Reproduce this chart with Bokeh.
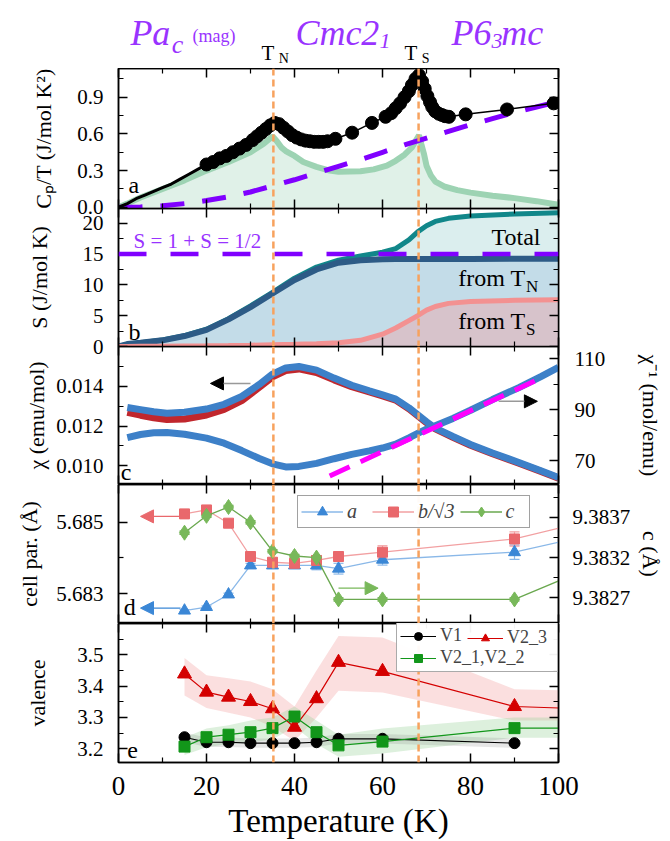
import numpy as np
from bokeh.plotting import figure
from bokeh.models import (Range1d, LinearAxis, FixedTicker, PrintfTickFormatter, Span, Legend,
                          LegendItem, Arrow, NormalHead, Whisker, TeeHead, ColumnDataSource)
from bokeh.layouts import column
from bokeh.core.properties import value
from bokeh.embed import file_html
from bokeh.resources import INLINE

FONT = "Liberation Serif"
PURPLE_TXT = "#9933ff"
PURPLE = "#8000ff"
ORANGE = "#f7a25e"
T_N, T_S = 35.2, 68.2

# ---------------- data ----------------
# (a) Cp/T
cp_T = [0, 2, 4, 6, 8, 10, 12, 14, 16, 18, 20, 21.5, 23, 24.5, 26, 27.5, 29, 30.5, 31.5, 32.5,
        33.5, 34.5, 35.5, 36.5, 37.5, 38.5, 39.5, 40.5, 41.5, 42.5, 43.5, 44.5, 45.5, 46.5, 47.5,
        49.3, 53.1, 57.6, 60.7, 62, 63, 64, 65, 66, 66.7, 67.5, 68.3, 69, 69.6, 70.2, 70.8, 71.3,
        72, 72.8, 73.5, 74.2, 75.1, 78.9, 88.3, 98.9]
cp_v = [0.0, 0.03, 0.07, 0.10, 0.13, 0.16, 0.19, 0.23, 0.27, 0.31, 0.35, 0.37, 0.40, 0.42, 0.45,
        0.48, 0.51, 0.55, 0.58, 0.61, 0.64, 0.67, 0.69, 0.68, 0.65, 0.62, 0.59, 0.57, 0.555, 0.545,
        0.54, 0.535, 0.535, 0.535, 0.54, 0.56, 0.61, 0.69, 0.74, 0.77, 0.81, 0.85, 0.90, 0.95, 1.00,
        1.05, 1.08, 1.03, 0.97, 0.91, 0.86, 0.82, 0.785, 0.765, 0.755, 0.745, 0.74, 0.76, 0.80, 0.85]
mag_T = [0, 2, 5, 10, 15, 20, 25, 30, 33, 35, 36, 37, 38, 40, 42, 45, 48, 50, 55, 58, 61, 63, 65,
         66.7, 67.5, 68.3, 68.8, 69.4, 70, 71, 72, 74, 77, 80, 85, 90, 95, 100]
mag_v = [0, 0.03, 0.08, 0.15, 0.22, 0.30, 0.37, 0.45, 0.52, 0.58, 0.54, 0.49, 0.46, 0.42, 0.37,
         0.33, 0.30, 0.29, 0.295, 0.31, 0.34, 0.38, 0.43, 0.49, 0.54, 0.59, 0.52, 0.44, 0.34, 0.26,
         0.21, 0.17, 0.14, 0.12, 0.095, 0.075, 0.05, 0.02]
lat_T = [0, 5, 10, 15, 20, 25, 30, 35, 40, 45, 50, 55, 60, 65, 70, 75, 80, 85, 90, 95, 100]
lat_v = [0, 0.003, 0.012, 0.03, 0.055, 0.085, 0.125, 0.175, 0.225, 0.28, 0.335, 0.39, 0.45, 0.51,
         0.565, 0.62, 0.675, 0.725, 0.775, 0.82, 0.865]
a_ticks = [0.0, 0.3, 0.6, 0.9]

# (b) entropy
S_T = [0, 2, 5, 10, 15, 20, 25, 30, 35, 40, 45, 50, 55, 60, 63, 66, 68, 70, 72, 75, 80, 90, 100]
S_TN = [0, 0.4, 0.6, 1.0, 1.7, 2.7, 4.4, 6.4, 8.6, 10.8, 12.5, 13.6, 14.0, 14.15, 14.2, 14.2,
        14.2, 14.2, 14.2, 14.2, 14.2, 14.25, 14.25]
S_TS = [0, 0.02, 0.04, 0.06, 0.1, 0.12, 0.15, 0.2, 0.3, 0.35, 0.45, 0.6, 1.0, 2.0, 3.0, 4.2, 5.0,
        5.9, 6.5, 7.0, 7.3, 7.5, 7.6]
S_tot = [0, 0.4, 0.6, 1.05, 1.75, 2.8, 4.5, 6.6, 8.8, 11.1, 12.9, 14.0, 14.7, 15.3, 15.9, 17.3,
         18.6, 19.6, 20.3, 20.8, 21.2, 21.5, 21.7]
S_limit = 15.0
b_ticks = [0, 5, 10, 15, 20]

# (c) susceptibility
chi_T = [2, 5, 8, 11, 15, 20, 24, 28, 32, 35, 38, 41, 45, 49, 53, 57, 60, 63, 66, 68, 70, 72, 76,
         80, 85, 91, 96, 100]
chi_fc = [0.01294, 0.01283, 0.01272, 0.01265, 0.01270, 0.01286, 0.01310, 0.01350, 0.01410,
          0.01462, 0.01493, 0.01500, 0.01482, 0.01442, 0.01406, 0.01378, 0.01358, 0.01336,
          0.01292, 0.01257, 0.01222, 0.01190, 0.01148, 0.01108, 0.01065, 0.01017, 0.00975, 0.00941]
chi_zfc = [0.01270, 0.01255, 0.01242, 0.01233, 0.01236, 0.01256, 0.01284, 0.01328, 0.01396,
           0.01448, 0.01480, 0.01488, 0.01470, 0.01433, 0.01399, 0.01372, 0.01352, 0.01331,
           0.01287, 0.01252, 0.01217, 0.01186, 0.01144, 0.01104, 0.01061, 0.01013, 0.00972, 0.00938]
inv_chi = [79.1, 80.3, 81.0, 81.1, 80.4, 78.9, 76.9, 74.0, 70.9, 68.8, 67.6, 67.8, 69.0, 70.8,
           72.5, 73.9, 75.0, 76.5, 79.0, 80.7, 82.4, 83.7, 86.6, 89.8, 94.0, 98.7, 103.0, 106.6]
cw_T = [48, 97]
cw_v = [64.0, 103.2]
c_ticks_l = [0.010, 0.012, 0.014]
c_ticks_r = [70, 90, 110]

# (d) cell parameters (last point lies beyond 100 K)
d_T = [15, 20, 25, 30, 35, 40, 45, 50, 60, 90, 110]
d_a = [5.68253, 5.68263, 5.68298, 5.68379, 5.68379, 5.68379, 5.68379, 5.68370, 5.68395, 5.68416, 5.68472]
d_a_err = [0.00003, 0.00003, 0.00004, 0.00006, 0.00008, 0.00008, 0.00012, 0.00015, 0.00015, 0.0002, 0.0002]
d_b = [5.68523, 5.68534, 5.68497, 5.68404, 5.68388, 5.68385, 5.68393, 5.68404, 5.68416, 5.68453, 5.68513]
d_b_err = [0.00003, 0.00003, 0.00004, 0.00008, 0.00012, 0.00012, 0.00012, 0.00012, 0.00018, 0.0002, 0.0002]
d_c = [9.38351, 9.38372, 9.38383, 9.38364, 9.38328, 9.38322, 9.38320, 9.38268, 9.38268, 9.38268, 9.38314]
d_c_err = [0.00002] * 11
d_ticks_l = [5.683, 5.685]
d_ticks_r = [9.3827, 9.3832, 9.3837]

# (e) valence (last point of V2 lines lies beyond 100 K)
e_T = [15, 20, 25, 30, 35, 40, 45, 50, 60, 90]
V1 = [3.237, 3.221, 3.221, 3.218, 3.218, 3.218, 3.221, 3.232, 3.232, 3.218]
V1_lo = [3.222, 3.206, 3.206, 3.203, 3.203, 3.203, 3.206, 3.217, 3.217, 3.203]
V1_hi = [3.252, 3.236, 3.236, 3.233, 3.233, 3.233, 3.236, 3.247, 3.247, 3.233]
e_T2 = [15, 20, 25, 30, 35, 40, 45, 50, 60, 90, 105]
V2_12 = [3.207, 3.237, 3.245, 3.253, 3.266, 3.303, 3.253, 3.211, 3.223, 3.266, 3.266]
V2_12_lo = [3.180, 3.205, 3.215, 3.220, 3.230, 3.270, 3.215, 3.175, 3.185, 3.235, 3.235]
V2_12_hi = [3.235, 3.265, 3.275, 3.290, 3.300, 3.335, 3.290, 3.245, 3.265, 3.300, 3.300]
V2_3 = [3.439, 3.381, 3.365, 3.351, 3.328, 3.269, 3.360, 3.476, 3.447, 3.335, 3.328]
V2_3_lo = [3.370, 3.330, 3.315, 3.300, 3.270, 3.225, 3.300, 3.385, 3.380, 3.290, 3.290]
V2_3_hi = [3.490, 3.435, 3.425, 3.415, 3.390, 3.335, 3.450, 3.560, 3.555, 3.390, 3.385]
e_ticks = [3.2, 3.3, 3.4, 3.5]

x_ticks = [0, 20, 40, 60, 80, 100]
x_minor = [10, 30, 50, 70, 90]

# ---------------- helpers ----------------
xr = Range1d(0, 100)
OVER = 10  # extra canvas below a panel so that its lowest tick label is not cut


def make_fig(fh, y0, y1, top=0, bottom=0, outline=True):
    p = figure(frame_width=440, frame_height=fh, x_range=xr, y_range=Range1d(y0, y1),
               min_border_left=118, min_border_right=112, min_border_top=top,
               min_border_bottom=bottom, x_axis_location=None, y_axis_location=None,
               toolbar_location=None, title=None, output_backend="svg",
               outline_line_color="black" if outline else None, outline_line_width=1.5,
               background_fill_color="white", border_fill_alpha=0)
    p.xgrid.visible = False
    p.ygrid.visible = False
    return p


def add_axis(p, side, ticks, minor, fmt=None, label=None, size="21px", standoff=15,
             label_standoff=10, range_name=None, label_size="22px"):
    ax = LinearAxis(ticker=FixedTicker(ticks=ticks, minor_ticks=minor))
    if range_name:
        ax.y_range_name = range_name
    ax.axis_line_color = "black"
    ax.axis_line_width = 1.5
    ax.major_tick_in = 9
    ax.major_tick_out = 0
    ax.minor_tick_in = 5
    ax.minor_tick_out = 0
    ax.major_tick_line_width = 1.5
    ax.minor_tick_line_width = 1.2
    if fmt:
        ax.formatter = PrintfTickFormatter(format=fmt)
        ax.major_label_text_font = FONT
        ax.major_label_text_font_size = size
        ax.major_label_text_color = "black"
        ax.major_label_standoff = standoff
    else:
        ax.major_label_text_font_size = "0px"
        ax.major_label_text_color = None
        ax.major_label_standoff = 0
    if label:
        ax.axis_label = label
        ax.axis_label_text_font = FONT
        ax.axis_label_text_font_size = label_size
        ax.axis_label_text_font_style = "normal"
        ax.axis_label_text_color = "black"
        ax.axis_label_standoff = label_standoff
    p.add_layout(ax, side)
    return ax


def txt(p, x, y, s, size, color="black", style="normal", align="left", rn="default"):
    p.text(x=[x], y=[y], text=[s], text_font=value(FONT), text_font_size=value(size),
           text_color=color, text_font_style=style, text_align=align,
           text_baseline="alphabetic", y_range_name=rn)


def vlines(p):
    for t in (T_N, T_S):
        p.add_layout(Span(location=t, dimension="height", line_color=ORANGE,
                          line_dash="7 4", line_width=2.5))


def x_axes(p, bottom_labels=False):
    add_axis(p, "above", x_ticks, x_minor)
    if bottom_labels:
        add_axis(p, "below", x_ticks, x_minor, fmt="%d", size="27px", standoff=14,
                 label="Temperature (K)", label_size="33px", label_standoff=5)
    else:
        add_axis(p, "below", x_ticks, x_minor)


# ---------------- header ----------------
ph = make_fig(68, 0, 68, outline=False)
txt(ph, 2.7, 36, "Pa", "36px", PURPLE_TXT, "italic")
txt(ph, 12.1, 24, "c", "26px", PURPLE_TXT, "italic")
txt(ph, 16.8, 33, "(mag)", "18px", PURPLE_TXT)
txt(ph, 40.2, 36, "Cmc2", "36px", PURPLE_TXT, "italic")
txt(ph, 59.3, 28, "1", "22px", PURPLE_TXT, "italic")
txt(ph, 75.7, 36, "P6", "36px", PURPLE_TXT, "italic")
txt(ph, 84.8, 28, "3", "22px", PURPLE_TXT, "italic")
txt(ph, 87.0, 36, "mc", "36px", PURPLE_TXT, "italic")
txt(ph, 32.5, 16, "T", "21px")
txt(ph, 36.4, 10, "N", "14px")
txt(ph, 65.0, 16, "T", "21px")
txt(ph, 68.9, 10, "S", "14px")

# ---------------- (a) ----------------
pa = make_fig(140, -0.01, 1.135, bottom=OVER)
pa.varea(x=mag_T, y1=0, y2=mag_v, fill_color="#e0f1e8")
pa.line(mag_T, mag_v, line_color="#9dd3b3", line_width=6)
pa.line(lat_T, lat_v, line_color=PURPLE, line_width=5, line_dash="24 18")
cpT = np.array(cp_T)
cpv = np.array(cp_v)
low = cpT <= 20
pa.line(cpT[low], cpv[low], line_color="black", line_width=3)
pa.line(cp_T, cp_v, line_color="black", line_width=1.5)
sel = cpT >= 20
pa.scatter(cpT[sel], cpv[sel], size=13, fill_color="black", line_color="black")
add_axis(pa, "left", a_ticks, [0.15, 0.45, 0.75, 1.05], fmt="%.1f",
         label="Cₚ/T (J/mol K²)", label_standoff=18)
add_axis(pa, "right", a_ticks, [0.15, 0.45, 0.75, 1.05])
x_axes(pa)
vlines(pa)
txt(pa, 2.3, 0.18, "a", "24px")

# ---------------- (b) ----------------
pb = make_fig(138, 0, 22.4, bottom=OVER)
pb.margin = (-OVER, 0, 0, 0)
pb.varea(x=S_T, y1=0, y2=S_tot, fill_color="#dbeeee")
pb.varea(x=S_T, y1=0, y2=S_TN, fill_color="#c3dce8")
pb.varea(x=S_T, y1=0, y2=S_TS, fill_color="#d7c3cb")
pb.line(S_T, S_tot, line_color="#11878a", line_width=5)
pb.line(S_T, S_TN, line_color="#2d5b86", line_width=6)
pb.line(S_T, S_TS, line_color="#f39191", line_width=5)
pb.add_layout(Span(location=S_limit, dimension="width", line_color=PURPLE, line_width=4.5,
                   line_dash="28 24"))
add_axis(pb, "left", b_ticks, [2.5, 7.5, 12.5, 17.5], fmt="%d", label="S (J/mol K)",
         label_standoff=28)
add_axis(pb, "right", b_ticks, [2.5, 7.5, 12.5, 17.5])
x_axes(pb)
vlines(pb)
txt(pb, 3.4, 17.1, "S = 1 + S = 1/2", "21px", PURPLE_TXT)
txt(pb, 95.9, 17.7, "Total", "24px", align="right")
txt(pb, 92.5, 11.1, "from T", "24px", align="right")
txt(pb, 92.6, 9.8, "N", "17px")
txt(pb, 92.5, 4.1, "from T", "24px", align="right")
txt(pb, 92.6, 2.8, "S", "17px")
txt(pb, 2.3, 2.3, "b", "24px")

# ---------------- (c) ----------------
pc = make_fig(138, 0.00906, 0.01601)
pc.margin = (-OVER, 0, 0, 0)
pc.extra_y_ranges = {"r": Range1d(60.7, 114.8)}
pc.line(chi_T, chi_zfc, line_color="#c1272d", line_width=7)
pc.line(chi_T, chi_fc, line_color="#3d80c8", line_width=7)
pc.line(chi_T, inv_chi, line_color="#3d80c8", line_width=7, y_range_name="r")
pc.line(cw_T, cw_v, line_color="#ff00ff", line_width=5, line_dash="22 12", y_range_name="r")
add_axis(pc, "left", c_ticks_l, [0.011, 0.013, 0.015], fmt="%.3f", label="χ (emu/mol)",
         label_standoff=4)
add_axis(pc, "right", c_ticks_r, [80, 100], fmt="%d", label="χ⁻¹ (mol/emu)", standoff=16,
         label_standoff=30, range_name="r")
x_axes(pc)
vlines(pc)
pc.add_layout(Arrow(end=NormalHead(size=13, fill_color="black", line_color="black"),
                    x_start=30, y_start=0.01415, x_end=20.9, y_end=0.01415,
                    line_color="#999999", line_width=1.5))
pc.add_layout(Arrow(end=NormalHead(size=13, fill_color="black", line_color="black"),
                    x_start=86.4, y_start=93.3, x_end=95.2, y_end=93.3,
                    line_color="#999999", line_width=1.5, y_range_name="r"))
txt(pc, 0.5, 0.0097, "c", "24px")

# ---------------- (d) ----------------
pd = make_fig(139, 5.68217, 5.68605)
pd.extra_y_ranges = {"r": Range1d(9.38238, 9.38411)}
n = len(d_T) - 1
series_d = [
    ("a", d_a, d_a_err, "#8ab8e8", "#3b87d6", "triangle", 12, "default"),
    ("b/√3", d_b, d_b_err, "#f2a0a2", "#e9686c", "square", 10, "default"),
    ("c", d_c, d_c_err, "#6aa84f", "#78b85a", "diamond", 15, "r"),
]
items_d = []
for lab, vals, errs, lc, mc, mk, ms, rn in series_d:
    v = np.array(vals)
    e = np.array(errs)
    src = ColumnDataSource(dict(T=d_T[:n], lo=(v - e)[:n], hi=(v + e)[:n]))
    pd.add_layout(Whisker(source=src, base="T", lower="lo", upper="hi", dimension="height",
                          line_color=lc, line_width=1.2, y_range_name=rn,
                          upper_head=TeeHead(size=10, line_color=lc, line_width=1.2),
                          lower_head=TeeHead(size=10, line_color=lc, line_width=1.2)))
    lr = pd.line(d_T, vals, line_color=lc, line_width=1.3, y_range_name=rn)
    mr = pd.scatter(d_T[:n], vals[:n], marker=mk, size=ms, fill_color=mc, line_color=mc,
                    y_range_name=rn)
    items_d.append(LegendItem(label=lab, renderers=[lr, mr]))
add_axis(pd, "left", d_ticks_l, [5.684], fmt="%.3f", label="cell par. (Å)", label_standoff=11)
add_axis(pd, "right", d_ticks_r, [9.38295, 9.38345, 9.38395], fmt="%.4f", label="c (Å)",
         standoff=14, label_standoff=5, range_name="r")
x_axes(pd)
vlines(pd)
pd.add_layout(Arrow(end=NormalHead(size=13, fill_color="#e9686c", line_color="#e9686c"),
                    x_start=14.1, y_start=5.68516, x_end=5.0, y_end=5.68516,
                    line_color="#e9686c", line_width=1.2))
pd.add_layout(Arrow(end=NormalHead(size=13, fill_color="#3b87d6", line_color="#3b87d6"),
                    x_start=14.1, y_start=5.6826, x_end=5.0, y_end=5.6826,
                    line_color="#3b87d6", line_width=1.2))
pd.add_layout(Arrow(end=NormalHead(size=13, fill_color="#78b85a", line_color="#78b85a"),
                    x_start=50, y_start=9.38282, x_end=59, y_end=9.38282,
                    line_color="#78b85a", line_width=1.2, y_range_name="r"))
leg_d = Legend(items=items_d, location=(179, 95), orientation="horizontal", margin=0,
               padding=3, spacing=5, glyph_width=42, glyph_height=25, label_height=25,
               label_standoff=4, label_text_font=FONT, label_text_font_size="20px",
               label_text_font_style="italic", border_line_color="#444444",
               border_line_width=1.2, background_fill_color="white")
pd.add_layout(leg_d)
txt(pd, 1.2, 5.68263, "d", "24px")

# ---------------- (e) ----------------
pe = make_fig(139, 3.1563, 3.5999, bottom=79)
pe.varea(x=e_T2, y1=V2_3_lo, y2=V2_3_hi, fill_color="#f4a3a3", fill_alpha=0.35)
pe.varea(x=e_T2, y1=V2_12_lo, y2=V2_12_hi, fill_color="#9fd49f", fill_alpha=0.35)
pe.varea(x=e_T, y1=V1_lo, y2=V1_hi, fill_color="#808080", fill_alpha=0.2)
l1 = pe.line(e_T, V1, line_color="black", line_width=1.2)
m1 = pe.scatter(e_T, V1, marker="circle", size=11, fill_color="black", line_color="black")
l3 = pe.line(e_T2, V2_3, line_color="#d40000", line_width=1.2)
m3 = pe.scatter(e_T, V2_3[:len(e_T)], marker="triangle", size=14, fill_color="#d40000",
                line_color="#d40000")
l2 = pe.line(e_T2, V2_12, line_color="#12961a", line_width=1.2)
m2 = pe.scatter(e_T, V2_12[:len(e_T)], marker="square", size=11, fill_color="#12961a",
                line_color="#12961a")
add_axis(pe, "left", e_ticks, [3.25, 3.35, 3.45, 3.55], fmt="%.1f", label="valence",
         label_standoff=24)
add_axis(pe, "right", e_ticks, [3.25, 3.35, 3.45, 3.55])
x_axes(pe, bottom_labels=True)
vlines(pe)
leg_e1 = Legend(items=[LegendItem(label="V1", renderers=[l1, m1]),
                       LegendItem(label="V2_1,V2_2", renderers=[l2, m2])],
                location=(278, 90), orientation="vertical", margin=0, padding=3, spacing=1,
                glyph_width=36, glyph_height=20, label_height=20, label_width=114,
                label_standoff=4, label_text_font=FONT, label_text_font_size="18px",
                border_line_color="#555555", border_line_width=1.5,
                background_fill_color="white")
leg_e2 = Legend(items=[LegendItem(label="V2_3", renderers=[l3, m3])],
                location=(346, 111), orientation="vertical", margin=0, padding=3, spacing=1,
                glyph_width=36, glyph_height=20, label_height=20, label_standoff=4,
                label_text_font=FONT, label_text_font_size="18px",
                border_line_alpha=0, background_fill_alpha=0)
pe.add_layout(leg_e1)
pe.add_layout(leg_e2)
txt(pe, 2.0, 3.1955, "e", "24px")

layout = column(ph, pa, pb, pc, pd, pe, spacing=0)
open("out.html", "w").write(file_html(layout, INLINE, title="Cp, entropy, susceptibility, cell and valence"))
